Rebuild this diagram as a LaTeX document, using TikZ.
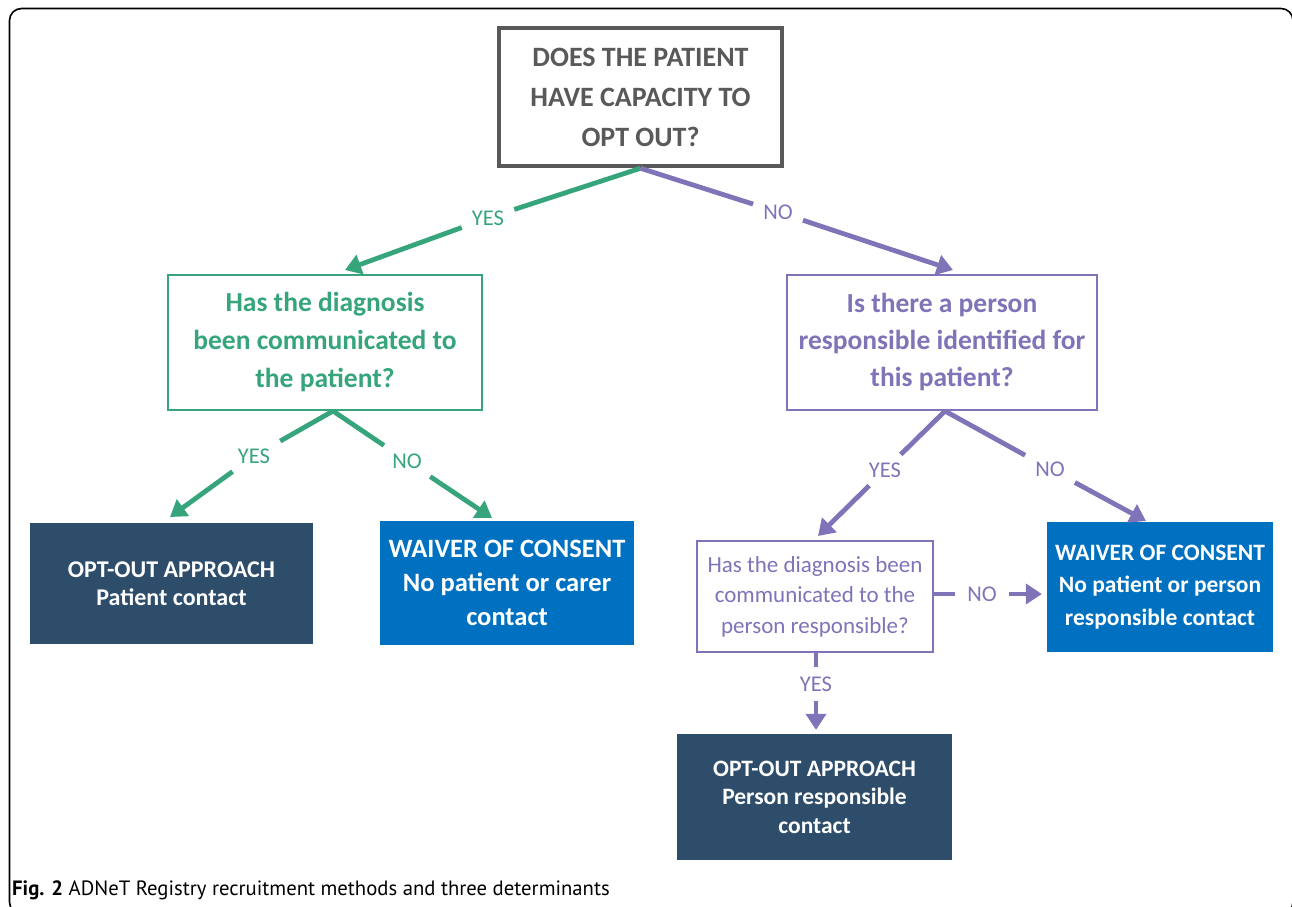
\documentclass[tikz,border=0pt]{standalone}
\usepackage{fontspec}
\setmainfont{Carlito}
\newfontfamily\capfont{PT Sans}
\usetikzlibrary{arrows.meta}
\definecolor{cgreen}{HTML}{36A57B}
\definecolor{cpurple}{HTML}{8173B8}
\definecolor{cnavy}{HTML}{2E4D6B}
\definecolor{cblue}{HTML}{0070C0}
\definecolor{cgray}{HTML}{595959}
\tikzset{
  qbox/.style={draw, align=center, inner sep=0pt, fill=white},
  fbox/.style={align=center, inner sep=0pt, text=white},
  lbl/.style={font=\fontsize{22.5}{24}\selectfont, inner xsep=10pt, inner ysep=8pt},
  gline/.style={draw=cgreen, line width=4.8pt},
  pline/.style={draw=cpurple, line width=4.8pt},
  tip/.style={-{Triangle[length=16pt,width=20pt]}},
}
\begin{document}
\begin{tikzpicture}[x=1pt,y=-1pt]
\useasboundingbox (0,0) rectangle (1292,906);
\clip (0,0) rectangle (1292,906);
\draw[line width=1.6pt, rounded corners=12pt] (9.5,8.5) rectangle (1293,914);

% question boxes
\node[qbox, draw=cgray, line width=4.5pt, text=cgray, minimum width=283pt, minimum height=138pt,
  font=\fontsize{28}{40}\selectfont\bfseries] (q0) at (640.5,97)
  {DOES THE PATIENT\\HAVE CAPACITY TO\\OPT OUT?};
\node[qbox, draw=cgreen, line width=2.5pt, text=cgreen, minimum width=314pt, minimum height=135pt,
  font=\fontsize{27.5}{38}\selectfont\bfseries] (q1) at (325,342.5)
  {Has the diagnosis\\been communicated to\\the patient?};
\node[qbox, draw=cpurple, line width=2.5pt, text=cpurple, minimum width=310pt, minimum height=135pt,
  font=\fontsize{27.5}{37}\selectfont\bfseries] (q2) at (942,342.5)
  {Is there a person\\responsible identified for\\this patient?};
\node[qbox, draw=cpurple, line width=2.5pt, text=cpurple, minimum width=236pt, minimum height=111pt,
  font=\fontsize{23}{30.5}\selectfont] (q3) at (815,596.5)
  {Has the diagnosis been\\communicated to the\\person responsible?};

% outcome boxes
\node[fbox, fill=cnavy, minimum width=283pt, minimum height=121pt,
  font=\fontsize{24}{28}\selectfont\bfseries] (a1) at (171.5,583.5)
  {OPT-OUT APPROACH\\Patient contact};
\node[fbox, fill=cblue, minimum width=254pt, minimum height=124pt,
  font=\fontsize{26.5}{34}\selectfont\bfseries] (b1) at (507,583)
  {WAIVER OF CONSENT\\No patient or carer\\contact};
\node[fbox, fill=cblue, minimum width=226pt, minimum height=130pt,
  font=\fontsize{23.5}{32.5}\selectfont\bfseries] (b2) at (1160,587)
  {WAIVER OF CONSENT\\No patient or person\\responsible contact};
\node[fbox, fill=cnavy, minimum width=275pt, minimum height=126pt,
  font=\fontsize{23.5}{28.5}\selectfont\bfseries] (a2) at (814.5,797)
  {OPT-OUT APPROACH\\Person responsible\\contact};

% labels
\node[lbl, text=cgreen] (y1) at (488,218) {YES};
\node[lbl, text=cpurple] (n1) at (778,212) {NO};
\node[lbl, text=cgreen] (y2) at (254,456) {YES};
\node[lbl, text=cgreen] (n2) at (407,461) {NO};
\node[lbl, text=cpurple] (y3) at (885,470) {YES};
\node[lbl, text=cpurple] (n3) at (1050,469) {NO};
\node[lbl, text=cpurple, inner ysep=9pt] (y4) at (816,684) {YES};
\node[lbl, text=cpurple, inner xsep=12pt] (n4) at (982,594) {NO};

% arrow end points
\coordinate (t1) at (345,270);
\coordinate (t2) at (953,270);
\coordinate (s1) at (333,411);
\coordinate (t3) at (170,517);
\coordinate (t4) at (492,518);
\coordinate (s2) at (945,411);
\coordinate (t5) at (818,536);
\coordinate (t6) at (1146,521);

% connectors
\draw[gline] (q0.south) -- (y1);
\draw[gline, tip] (y1) -- (t1);
\draw[pline] (q0.south) -- (n1);
\draw[pline, tip] (n1) -- (t2);

\draw[gline] (s1) -- (y2);
\draw[gline, tip] (y2) -- (t3);
\draw[gline] (s1) -- (n2);
\draw[gline, tip] (n2) -- (t4);

\draw[pline] (s2) -- (y3);
\draw[pline, tip] (y3) -- (t5);
\draw[pline] (s2) -- (n3);
\draw[pline, tip] (n3) -- (t6);

\draw[pline] (q3.east |- n4) -- (n4);
\draw[pline, tip, shorten >=5pt] (n4) -- (n4 -| b2.west);
\draw[pline] (q3.south -| y4) -- (y4);
\draw[pline, tip, shorten >=4pt] (y4) -- (y4 |- a2.north);

% caption
\node[anchor=base west, inner sep=0pt, font=\capfont\fontsize{20.7}{24}\selectfont] (cap) at (12,895)
  {\textbf{Fig. 2} ADNeT Registry recruitment methods and three determinants};
\end{tikzpicture}
\end{document}
